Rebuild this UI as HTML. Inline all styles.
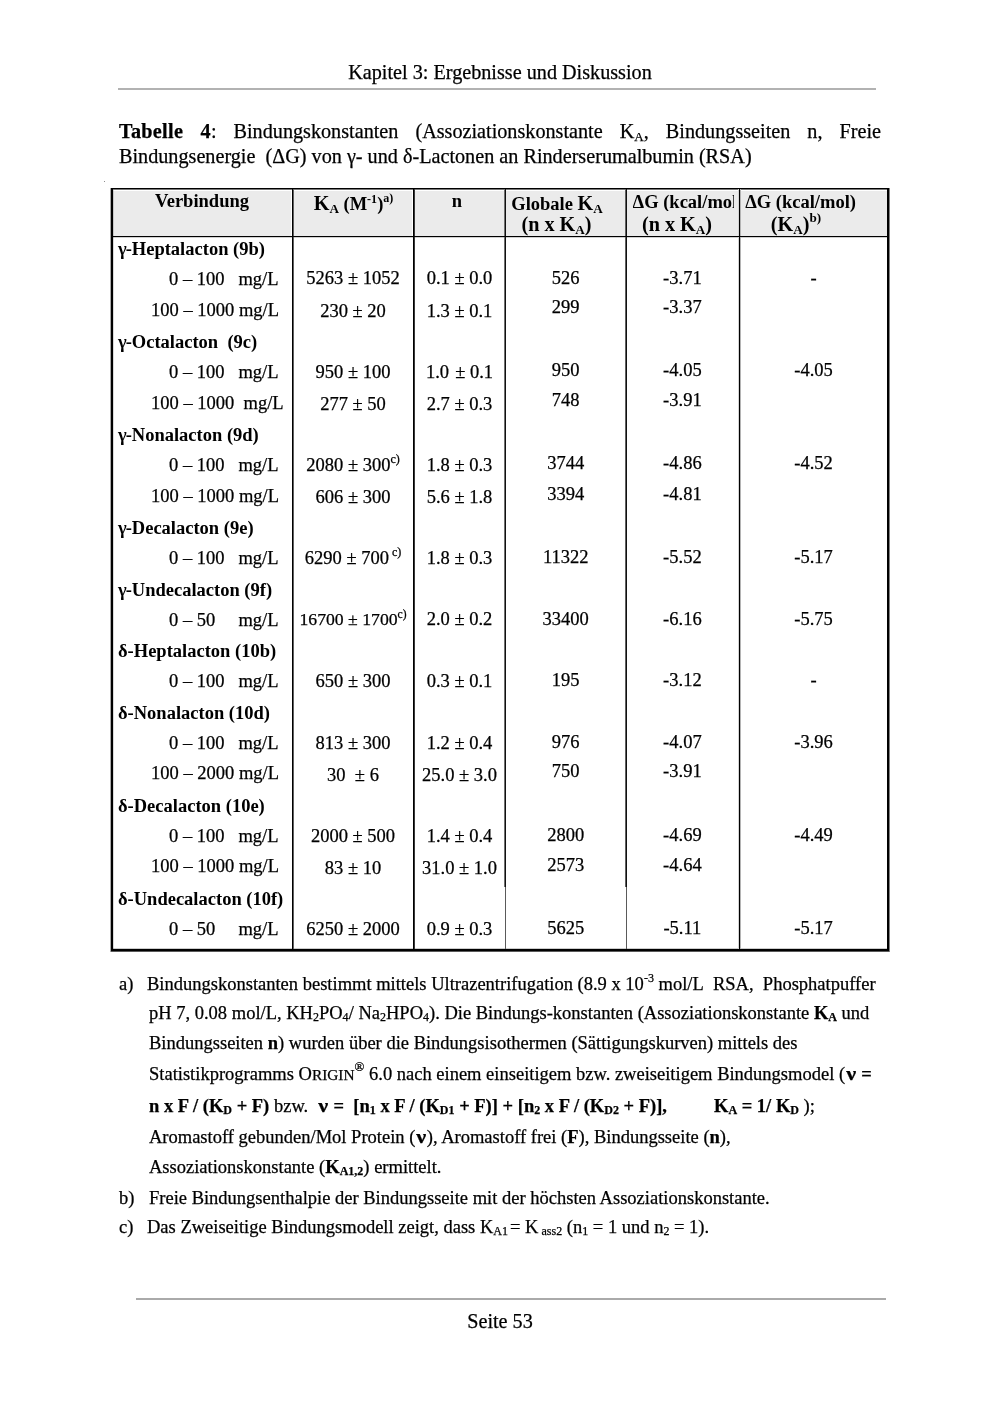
<!DOCTYPE html>
<html><head><meta charset="utf-8"><title>Seite 53</title>
<style>
html,body{margin:0;padding:0;background:#fff;}
body{width:1000px;height:1415px;position:relative;overflow:hidden;font-family:"Liberation Serif",serif;color:#000;}
.t{position:absolute;white-space:pre;line-height:1;-webkit-text-stroke:0.25px #000;}
.t sub,.t sup{font-size:0.65em;line-height:0;}
.t sub{vertical-align:-0.2em;}
.t sup{vertical-align:0.5em;}
.t sup.s1{vertical-align:0.58em;}
.t sup.s2{vertical-align:0.63em;}
.t sup.s3{vertical-align:0.7em;}
.nu{display:inline-block;transform:scaleX(1.2);margin:0 1.6px;}
.ln{position:absolute;background:#000;}
#pg{position:absolute;left:0;top:0;width:1000px;height:1415px;will-change:transform;}
</style></head><body><div id="pg">

<div class="ln" style="left:118px;top:88px;width:758px;height:2px;background:#b2b2b2"></div>
<div class="ln" style="left:136px;top:1298px;width:750px;height:2px;background:#aaa"></div>
<div class="ln" style="left:113px;top:191px;width:178.4px;height:44.6px;background:#ebebeb"></div>
<div class="ln" style="left:294px;top:191px;width:118.4px;height:44.6px;background:#ebebeb"></div>
<div class="ln" style="left:415px;top:191px;width:88.6px;height:44.6px;background:#ebebeb"></div>
<div class="ln" style="left:506px;top:191px;width:118.6px;height:44.6px;background:#ebebeb"></div>
<div class="ln" style="left:627px;top:191px;width:111.2px;height:44.6px;background:#ebebeb"></div>
<div class="ln" style="left:740.6px;top:191px;width:146.4px;height:44.6px;background:#ebebeb"></div>
<div class="ln" style="left:111px;top:237px;width:778px;height:1px;background:#d0d0d0"></div>
<div class="ln" style="left:111px;top:189px;width:778px;height:1px;background:#777"></div>
<div class="ln" style="left:111px;top:948px;width:778px;height:1px;background:#ccc"></div>
<div class="ln" style="left:110px;top:188px;width:1px;height:763.5px;background:#aaa"></div>
<div class="ln" style="left:113px;top:190px;width:1px;height:759px;background:rgba(0,0,0,0.15)"></div>
<div class="ln" style="left:889px;top:188px;width:1px;height:763.5px;background:#808080"></div>
<div class="ln" style="left:292px;top:188px;width:2px;height:762px;background:linear-gradient(90deg,#000 50%,#606060 50%)"></div>
<div class="ln" style="left:413px;top:188px;width:2px;height:762px;background:linear-gradient(90deg,#000 50%,#383838 50%)"></div>
<div class="ln" style="left:504px;top:188px;width:2px;height:699px;background:linear-gradient(90deg,#707070 50%,#101010 50%)"></div>
<div class="ln" style="left:505px;top:887px;width:1px;height:63px;background:#5a5a5a"></div>
<div class="ln" style="left:625px;top:188px;width:2px;height:699px;background:linear-gradient(90deg,#606060 50%,#101010 50%)"></div>
<div class="ln" style="left:626px;top:887px;width:1px;height:63px;background:#5a5a5a"></div>
<div class="ln" style="left:738px;top:188px;width:3px;height:762px;background:linear-gradient(90deg,#d4d4d4 33.3%,#000 33.3%,#000 66.6%,#b4b4b4 66.6%)"></div>
<div class="ln" style="left:111px;top:236px;width:778px;height:1px;background:#000"></div>
<div class="ln" style="left:111px;top:188px;width:778px;height:1px;background:#000"></div>
<div class="ln" style="left:111px;top:188px;width:2px;height:763px;background:#000"></div>
<div class="ln" style="left:887px;top:188px;width:2px;height:763px;background:#000"></div>
<div class="ln" style="left:111px;top:949px;width:778px;height:2px;background:#000"></div>
<div class="ln" style="left:111px;top:951px;width:778px;height:1px;background:#5a5a5a"></div>
<div class="ln" style="left:104px;top:181px;width:1px;height:1px;background:#8c8c8c"></div>
<div class="t" style="top:61.78px;font-size:20.2px;left:500px;transform:translateX(-50%);">Kapitel 3: Ergebnisse und Diskussion</div>
<div class="t" style="top:120.58px;font-size:20.2px;left:119px;white-space:normal;text-align:justify;text-align-last:justify;width:762px;"><b style="letter-spacing:0.3px">Tabelle 4</b>: Bindungskonstanten (Assoziationskonstante K<sub>A</sub>, Bindungsseiten n, Freie</div>
<div class="t" style="top:146.08px;font-size:20.2px;left:119px;">Bindungsenergie&nbsp; (ΔG) von γ- und δ-Lactonen an Rinderserumalbumin (RSA)</div>
<div class="t" style="top:191.51px;font-size:18.5px;font-weight:bold;-webkit-text-stroke:0;left:202px;transform:translateX(-50%);">Verbindung</div>
<div class="t" style="top:192.51px;font-size:18.5px;font-weight:bold;-webkit-text-stroke:0;left:353.5px;transform:translateX(-50%);"><span style="font-size:20.2px">K<sub>A</sub></span> (M<sup class="s1">-1</sup>)<sup class="s2">a)</sup></div>
<div class="t" style="top:191.51px;font-size:18.5px;font-weight:bold;-webkit-text-stroke:0;left:457px;transform:translateX(-50%);">n</div>
<div class="t" style="top:192.51px;font-size:18.5px;font-weight:bold;-webkit-text-stroke:0;left:557px;transform:translateX(-50%);">Globale <span style="font-size:20.2px">K<sub>A</sub></span></div>
<div class="t" style="top:214.08px;font-size:20.2px;font-weight:bold;-webkit-text-stroke:0;left:556.5px;transform:translateX(-50%);">(n x K<sub>A</sub>)</div>
<div class="t" style="top:192.51px;font-size:18.5px;font-weight:bold;-webkit-text-stroke:0;left:632.6px;width:101.4px;overflow:hidden;">ΔG (kcal/mol)</div>
<div class="t" style="top:214.08px;font-size:20.2px;font-weight:bold;-webkit-text-stroke:0;left:677px;transform:translateX(-50%);">(n x K<sub>A</sub>)</div>
<div class="t" style="top:192.51px;font-size:18.5px;font-weight:bold;-webkit-text-stroke:0;left:745.2px;">ΔG (kcal/mol)</div>
<div class="t" style="top:213.58px;font-size:20.2px;font-weight:bold;-webkit-text-stroke:0;left:796px;transform:translateX(-50%);">(K<sub>A</sub>)<sup class="s2" style="vertical-align:0.7em">b)</sup></div>
<div class="t" style="top:239.91px;font-size:18.5px;font-weight:bold;-webkit-text-stroke:0;left:118px;"><span style="margin-right:-1px">γ</span>-Heptalacton (9b)</div>
<div class="t" style="top:270.21px;font-size:18.5px;left:169px;">0 – 100&nbsp;&nbsp; mg/L</div>
<div class="t" style="top:269.01px;font-size:18.5px;left:353px;transform:translateX(-50%);">5263 ± 1052</div>
<div class="t" style="top:269.01px;font-size:18.5px;left:459.5px;transform:translateX(-50%);">0.1 ± 0.0</div>
<div class="t" style="top:268.71px;font-size:18.5px;left:565.7px;transform:translateX(-50%);">526</div>
<div class="t" style="top:268.71px;font-size:18.5px;left:682.4px;transform:translateX(-50%);">-3.71</div>
<div class="t" style="top:268.71px;font-size:18.5px;left:813.5px;transform:translateX(-50%);">-</div>
<div class="t" style="top:300.51px;font-size:18.5px;left:151px;">100 – 1000 mg/L</div>
<div class="t" style="top:301.51px;font-size:18.5px;left:353px;transform:translateX(-50%);">230 ± 20</div>
<div class="t" style="top:301.51px;font-size:18.5px;left:459.5px;transform:translateX(-50%);">1.3 ± 0.1</div>
<div class="t" style="top:297.91px;font-size:18.5px;left:565.7px;transform:translateX(-50%);">299</div>
<div class="t" style="top:297.91px;font-size:18.5px;left:682.4px;transform:translateX(-50%);">-3.37</div>
<div class="t" style="top:333.01px;font-size:18.5px;font-weight:bold;-webkit-text-stroke:0;left:118px;"><span style="margin-right:-1px">γ</span>-Octalacton&nbsp; (9c)</div>
<div class="t" style="top:362.91px;font-size:18.5px;left:169px;">0 – 100&nbsp;&nbsp; mg/L</div>
<div class="t" style="top:362.91px;font-size:18.5px;left:353px;transform:translateX(-50%);">950 ± 100</div>
<div class="t" style="top:362.91px;font-size:18.5px;left:459.5px;transform:translateX(-50%);">1.0 <span style="margin-left:1.5px">±</span> 0.1</div>
<div class="t" style="top:361.31px;font-size:18.5px;left:565.7px;transform:translateX(-50%);">950</div>
<div class="t" style="top:361.31px;font-size:18.5px;left:682.4px;transform:translateX(-50%);">-4.05</div>
<div class="t" style="top:361.31px;font-size:18.5px;left:813.5px;transform:translateX(-50%);">-4.05</div>
<div class="t" style="top:393.51px;font-size:18.5px;left:151px;">100 – 1000&nbsp; mg/L</div>
<div class="t" style="top:394.51px;font-size:18.5px;left:353px;transform:translateX(-50%);">277 ± 50</div>
<div class="t" style="top:394.51px;font-size:18.5px;left:459.5px;transform:translateX(-50%);">2.7 ± 0.3</div>
<div class="t" style="top:390.91px;font-size:18.5px;left:565.7px;transform:translateX(-50%);">748</div>
<div class="t" style="top:390.91px;font-size:18.5px;left:682.4px;transform:translateX(-50%);">-3.91</div>
<div class="t" style="top:426.01px;font-size:18.5px;font-weight:bold;-webkit-text-stroke:0;left:118px;"><span style="margin-right:-1px">γ</span>-Nonalacton (9d)</div>
<div class="t" style="top:456.01px;font-size:18.5px;left:169px;">0 – 100&nbsp;&nbsp; mg/L</div>
<div class="t" style="top:456.11px;font-size:18.5px;left:353px;transform:translateX(-50%);">2080 ± 300<sup class="s2">c)</sup></div>
<div class="t" style="top:456.11px;font-size:18.5px;left:459.5px;transform:translateX(-50%);">1.8 ± 0.3</div>
<div class="t" style="top:454.31px;font-size:18.5px;left:565.7px;transform:translateX(-50%);">3744</div>
<div class="t" style="top:454.31px;font-size:18.5px;left:682.4px;transform:translateX(-50%);">-4.86</div>
<div class="t" style="top:454.31px;font-size:18.5px;left:813.5px;transform:translateX(-50%);">-4.52</div>
<div class="t" style="top:486.51px;font-size:18.5px;left:151px;">100 – 1000 mg/L</div>
<div class="t" style="top:488.11px;font-size:18.5px;left:353px;transform:translateX(-50%);">606 ± 300</div>
<div class="t" style="top:488.11px;font-size:18.5px;left:459.5px;transform:translateX(-50%);">5.6 ± 1.8</div>
<div class="t" style="top:484.51px;font-size:18.5px;left:565.7px;transform:translateX(-50%);">3394</div>
<div class="t" style="top:484.51px;font-size:18.5px;left:682.4px;transform:translateX(-50%);">-4.81</div>
<div class="t" style="top:519.41px;font-size:18.5px;font-weight:bold;-webkit-text-stroke:0;left:118px;"><span style="margin-right:-1px">γ</span>-Decalacton (9e)</div>
<div class="t" style="top:549.41px;font-size:18.5px;left:169px;">0 – 100&nbsp;&nbsp; mg/L</div>
<div class="t" style="top:549.11px;font-size:18.5px;left:353px;transform:translateX(-50%);">6290 ± 700<sup class="s2"> c)</sup></div>
<div class="t" style="top:549.11px;font-size:18.5px;left:459.5px;transform:translateX(-50%);">1.8 ± 0.3</div>
<div class="t" style="top:547.71px;font-size:18.5px;left:565.7px;transform:translateX(-50%);">11322</div>
<div class="t" style="top:547.71px;font-size:18.5px;left:682.4px;transform:translateX(-50%);">-5.52</div>
<div class="t" style="top:547.71px;font-size:18.5px;left:813.5px;transform:translateX(-50%);">-5.17</div>
<div class="t" style="top:581.01px;font-size:18.5px;font-weight:bold;-webkit-text-stroke:0;left:118px;"><span style="margin-right:-1px">γ</span>-Undecalacton (9f)</div>
<div class="t" style="top:611.41px;font-size:18.5px;left:169px;">0 – 50&nbsp;&nbsp;&nbsp;&nbsp; mg/L</div>
<div class="t" style="top:609.51px;font-size:18.5px;left:353px;transform:translateX(-50%);"><span style="font-size:17.7px">16700 ± 1700<sup class="s2">c)</sup></span></div>
<div class="t" style="top:610.01px;font-size:18.5px;left:459.5px;transform:translateX(-50%);">2.0 ± 0.2</div>
<div class="t" style="top:609.51px;font-size:18.5px;left:565.7px;transform:translateX(-50%);">33400</div>
<div class="t" style="top:609.51px;font-size:18.5px;left:682.4px;transform:translateX(-50%);">-6.16</div>
<div class="t" style="top:609.51px;font-size:18.5px;left:813.5px;transform:translateX(-50%);">-5.75</div>
<div class="t" style="top:642.41px;font-size:18.5px;font-weight:bold;-webkit-text-stroke:0;left:118px;">δ-Heptalacton (10b)</div>
<div class="t" style="top:672.01px;font-size:18.5px;left:169px;">0 – 100&nbsp;&nbsp; mg/L</div>
<div class="t" style="top:671.91px;font-size:18.5px;left:353px;transform:translateX(-50%);">650 ± 300</div>
<div class="t" style="top:671.91px;font-size:18.5px;left:459.5px;transform:translateX(-50%);">0.3 ± 0.1</div>
<div class="t" style="top:670.51px;font-size:18.5px;left:565.7px;transform:translateX(-50%);">195</div>
<div class="t" style="top:670.51px;font-size:18.5px;left:682.4px;transform:translateX(-50%);">-3.12</div>
<div class="t" style="top:670.51px;font-size:18.5px;left:813.5px;transform:translateX(-50%);">-</div>
<div class="t" style="top:703.71px;font-size:18.5px;font-weight:bold;-webkit-text-stroke:0;left:118px;">δ-Nonalacton (10d)</div>
<div class="t" style="top:734.01px;font-size:18.5px;left:169px;">0 – 100&nbsp;&nbsp; mg/L</div>
<div class="t" style="top:733.51px;font-size:18.5px;left:353px;transform:translateX(-50%);">813 ± 300</div>
<div class="t" style="top:733.51px;font-size:18.5px;left:459.5px;transform:translateX(-50%);">1.2 ± 0.4</div>
<div class="t" style="top:732.51px;font-size:18.5px;left:565.7px;transform:translateX(-50%);">976</div>
<div class="t" style="top:732.51px;font-size:18.5px;left:682.4px;transform:translateX(-50%);">-4.07</div>
<div class="t" style="top:732.51px;font-size:18.5px;left:813.5px;transform:translateX(-50%);">-3.96</div>
<div class="t" style="top:764.01px;font-size:18.5px;left:151px;">100 – 2000 mg/L</div>
<div class="t" style="top:765.51px;font-size:18.5px;left:353px;transform:translateX(-50%);">30&nbsp; ± 6</div>
<div class="t" style="top:765.51px;font-size:18.5px;left:459.5px;transform:translateX(-50%);">25.0 ± 3.0</div>
<div class="t" style="top:762.21px;font-size:18.5px;left:565.7px;transform:translateX(-50%);">750</div>
<div class="t" style="top:762.21px;font-size:18.5px;left:682.4px;transform:translateX(-50%);">-3.91</div>
<div class="t" style="top:796.91px;font-size:18.5px;font-weight:bold;-webkit-text-stroke:0;left:118px;">δ-Decalacton (10e)</div>
<div class="t" style="top:827.01px;font-size:18.5px;left:169px;">0 – 100&nbsp;&nbsp; mg/L</div>
<div class="t" style="top:826.51px;font-size:18.5px;left:353px;transform:translateX(-50%);">2000 ± 500</div>
<div class="t" style="top:826.51px;font-size:18.5px;left:459.5px;transform:translateX(-50%);">1.4 ± 0.4</div>
<div class="t" style="top:825.51px;font-size:18.5px;left:565.7px;transform:translateX(-50%);">2800</div>
<div class="t" style="top:825.51px;font-size:18.5px;left:682.4px;transform:translateX(-50%);">-4.69</div>
<div class="t" style="top:825.51px;font-size:18.5px;left:813.5px;transform:translateX(-50%);">-4.49</div>
<div class="t" style="top:857.01px;font-size:18.5px;left:151px;">100 – 1000 mg/L</div>
<div class="t" style="top:858.51px;font-size:18.5px;left:353px;transform:translateX(-50%);">83 ± 10</div>
<div class="t" style="top:858.51px;font-size:18.5px;left:459.5px;transform:translateX(-50%);">31.0 ± 1.0</div>
<div class="t" style="top:855.91px;font-size:18.5px;left:565.7px;transform:translateX(-50%);">2573</div>
<div class="t" style="top:855.91px;font-size:18.5px;left:682.4px;transform:translateX(-50%);">-4.64</div>
<div class="t" style="top:890.01px;font-size:18.5px;font-weight:bold;-webkit-text-stroke:0;left:118px;">δ-Undecalacton (10f)</div>
<div class="t" style="top:920.01px;font-size:18.5px;left:169px;">0 – 50&nbsp;&nbsp;&nbsp;&nbsp; mg/L</div>
<div class="t" style="top:920.11px;font-size:18.5px;left:353px;transform:translateX(-50%);">6250 ± 2000</div>
<div class="t" style="top:920.11px;font-size:18.5px;left:459.5px;transform:translateX(-50%);">0.9 ± 0.3</div>
<div class="t" style="top:918.81px;font-size:18.5px;left:565.7px;transform:translateX(-50%);">5625</div>
<div class="t" style="top:918.81px;font-size:18.5px;left:682.4px;transform:translateX(-50%);">-5.11</div>
<div class="t" style="top:918.81px;font-size:18.5px;left:813.5px;transform:translateX(-50%);">-5.17</div>
<div class="t" style="top:974.51px;font-size:18.5px;left:119px;">a)</div>
<div class="t" style="top:974.51px;font-size:18.5px;left:147px;">Bindungskonstanten bestimmt mittels Ultrazentrifugation (8.9 x 10<sup class="s3">-3</sup> mol/L&nbsp; RSA,&nbsp; Phosphatpuffer</div>
<div class="t" style="top:1004.01px;font-size:18.5px;left:149px;">pH 7, 0.08 mol/L, KH<sub>2</sub>PO<sub>4</sub>/ Na<sub>2</sub>HPO<sub>4</sub>). Die Bindungs-konstanten (Assoziationskonstante <b>K<sub>A</sub></b> und</div>
<div class="t" style="top:1034.01px;font-size:18.5px;left:149px;">Bindungsseiten <b>n</b>) wurden über die Bindungsisothermen (Sättigungskurven) mittels des</div>
<div class="t" style="top:1064.51px;font-size:18.5px;left:149px;">Statistikprogramms O<span style="font-size:0.83em">RIGIN</span><sup class="s3" style="font-size:0.7em">®</sup> 6.0 nach einem einseitigem bzw. zweiseitigem Bindungsmodel (<b><span class="nu">ν</span> =</b></div>
<div class="t" style="top:1096.51px;font-size:18.5px;left:149px;"><b>n x F / (K<sub>D</sub> + F)</b> bzw.&nbsp; <b><span class="nu">ν</span> =&nbsp; [n<sub>1</sub> x F / (K<sub>D1</sub> + F)] + [n<sub>2</sub> x F / (K<sub>D2</sub> + F)],</b></div>
<div class="t" style="top:1096.51px;font-size:18.5px;left:714px;"><b>K<sub>A</sub> = 1/ K<sub>D</sub></b> );</div>
<div class="t" style="top:1128.01px;font-size:18.5px;left:149px;">Aromastoff gebunden/Mol Protein (<b><span class="nu">ν</span></b>), Aromastoff frei (<b>F</b>), Bindungsseite (<b>n</b>),</div>
<div class="t" style="top:1157.51px;font-size:18.5px;left:149px;">Assoziationskonstante (<b>K<sub>A1,2</sub></b>) ermittelt.</div>
<div class="t" style="top:1188.51px;font-size:18.5px;left:119px;">b)</div>
<div class="t" style="top:1188.51px;font-size:18.5px;left:149px;">Freie Bindungsenthalpie der Bindungsseite mit der höchsten Assoziationskonstante.</div>
<div class="t" style="top:1218.01px;font-size:18.5px;left:119px;">c)</div>
<div class="t" style="top:1218.01px;font-size:18.5px;left:147px;">Das Zweiseitige Bindungsmodell zeigt, dass K<sub>A1</sub><span style="margin-left:2px">=</span> K<sub> ass2</sub> (n<sub>1</sub> = 1 und n<sub>2</sub> = 1).</div>
<div class="t" style="top:1310.58px;font-size:20.2px;left:500px;transform:translateX(-50%);">Seite 53</div>
</div></body></html>
